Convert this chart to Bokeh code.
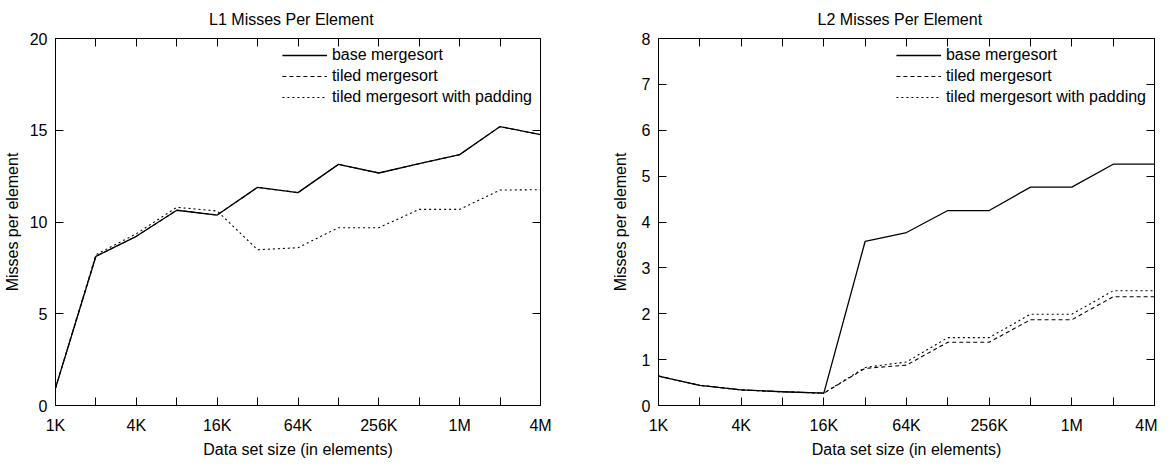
from bokeh.plotting import figure
from bokeh.layouts import row
from bokeh.models import FixedTicker, LinearAxis, LogAxis, Legend, LegendItem, Range1d
from bokeh.embed import file_html
from bokeh.resources import INLINE

# ---- data ----
sizes = [1024, 2048, 4096, 8192, 16384, 32768, 65536, 131072, 262144,
         524288, 1048576, 2097152, 4194304]
size_labels = ["1K", "2K", "4K", "8K", "16K", "32K", "64K", "128K", "256K",
               "512K", "1M", "2M", "4M"]

l1_base = [0.95, 8.13, 9.22, 10.64, 10.38, 11.89, 11.6, 13.14, 12.67, 13.18, 13.67, 15.2, 14.76]
l1_tiled = [0.95, 8.13, 9.22, 10.64, 10.38, 11.89, 11.6, 13.14, 12.67, 13.18, 13.67, 15.2, 14.76]
l1_padded = [0.95, 8.22, 9.36, 10.8, 10.6, 8.49, 8.6, 9.69, 9.69, 10.69, 10.69, 11.74, 11.76]

l2_base = [0.64, 0.44, 0.34, 0.30, 0.27, 3.58, 3.77, 4.25, 4.25, 4.76, 4.76, 5.26, 5.26]
l2_tiled = [0.64, 0.44, 0.34, 0.30, 0.27, 0.81, 0.88, 1.38, 1.38, 1.87, 1.87, 2.37, 2.37]
l2_padded = [0.64, 0.44, 0.34, 0.30, 0.27, 0.83, 0.95, 1.48, 1.48, 1.99, 1.99, 2.50, 2.50]

series_names = ["base mergesort", "tiled mergesort", "tiled mergesort with padding"]

l1_yticks = [0, 5, 10, 15, 20]
l2_yticks = [0, 1, 2, 3, 4, 5, 6, 7, 8]

FONT = "Liberation Sans"
FS = "16px"


def style_axis(ax):
    ax.axis_line_color = "black"
    ax.major_tick_line_color = "black"
    ax.minor_tick_line_color = "black"
    ax.major_tick_in = 8
    ax.major_tick_out = 0
    ax.minor_tick_in = 8
    ax.minor_tick_out = 0
    ax.major_label_text_font = FONT
    ax.major_label_text_font_size = FS
    ax.major_label_text_color = "black"
    ax.axis_label_text_font = FONT
    ax.axis_label_text_font_style = "normal"
    ax.axis_label_text_font_size = FS
    ax.axis_label_text_color = "black"


def make_fig(title, base, tiled, padded, ymax, yticks, width, bl, br, ylab_standoff):
    p = figure(width=width, height=460, x_axis_type="log",
               x_range=Range1d(sizes[0], sizes[-1]), y_range=Range1d(0, ymax),
               output_backend="svg", toolbar_location=None,
               min_border_left=bl, min_border_right=br,
               min_border_top=38, min_border_bottom=10)
    p.title.text = title
    p.title.align = "center"
    p.title.vertical_align = "top"
    p.title.text_font = FONT
    p.title.text_font_size = FS
    p.title.text_font_style = "normal"
    p.title.text_color = "black"
    p.title.standoff = 18
    p.xgrid.visible = False
    p.ygrid.visible = False
    p.outline_line_color = "black"
    p.outline_line_alpha = 1
    p.background_fill_color = "white"
    p.border_fill_color = "white"

    p.xaxis.ticker = FixedTicker(ticks=sizes[0::2], minor_ticks=sizes[1::2])
    p.xaxis.major_label_overrides = {s: l for s, l in zip(sizes, size_labels)}
    p.xaxis.axis_label = "Data set size (in elements)"
    p.xaxis.major_label_standoff = 11
    p.xaxis.axis_label_standoff = 4
    p.yaxis.ticker = FixedTicker(ticks=yticks, minor_ticks=[])
    p.yaxis.axis_label = "Misses per element"
    p.yaxis.major_label_standoff = 8
    p.yaxis.axis_label_standoff = ylab_standoff
    for ax in p.xaxis + p.yaxis:
        style_axis(ax)

    # mirrored inward ticks on the top and right edges (minor ticks only -> no labels)
    top = LogAxis(ticker=FixedTicker(ticks=[], minor_ticks=sizes))
    style_axis(top)
    top.major_label_standoff = 0
    p.add_layout(top, "above")
    right = LinearAxis(ticker=FixedTicker(ticks=[], minor_ticks=yticks))
    style_axis(right)
    right.major_label_standoff = 0
    p.add_layout(right, "right")

    r_t = p.line(sizes, tiled, line_color="black", line_width=1.1, line_dash="4 3")
    r_p = p.line(sizes, padded, line_color="black", line_width=1.1, line_dash="2 3")
    r_b = p.line(sizes, base, line_color="black", line_width=1.3)

    legend = Legend(items=[LegendItem(label=series_names[0], renderers=[r_b]),
                           LegendItem(label=series_names[1], renderers=[r_t]),
                           LegendItem(label=series_names[2], renderers=[r_p])],
                    location="top_right", border_line_color=None,
                    background_fill_alpha=0, label_text_font=FONT,
                    label_text_font_size=FS, label_text_color="black",
                    glyph_width=45, glyph_height=16, label_height=16,
                    spacing=3, padding=4, margin=8)
    p.add_layout(legend)
    return p


p1 = make_fig("L1  Misses  Per  Element", l1_base, l1_tiled, l1_padded, 20, l1_yticks,
              579, 53, 39, 6)
p2 = make_fig("L2  Misses  Per  Element", l2_base, l2_tiled, l2_padded, 8, l2_yticks,
              578, 79, 3, 10)

layout = row(p1, p2)
open("out.html", "w").write(file_html(layout, INLINE))
